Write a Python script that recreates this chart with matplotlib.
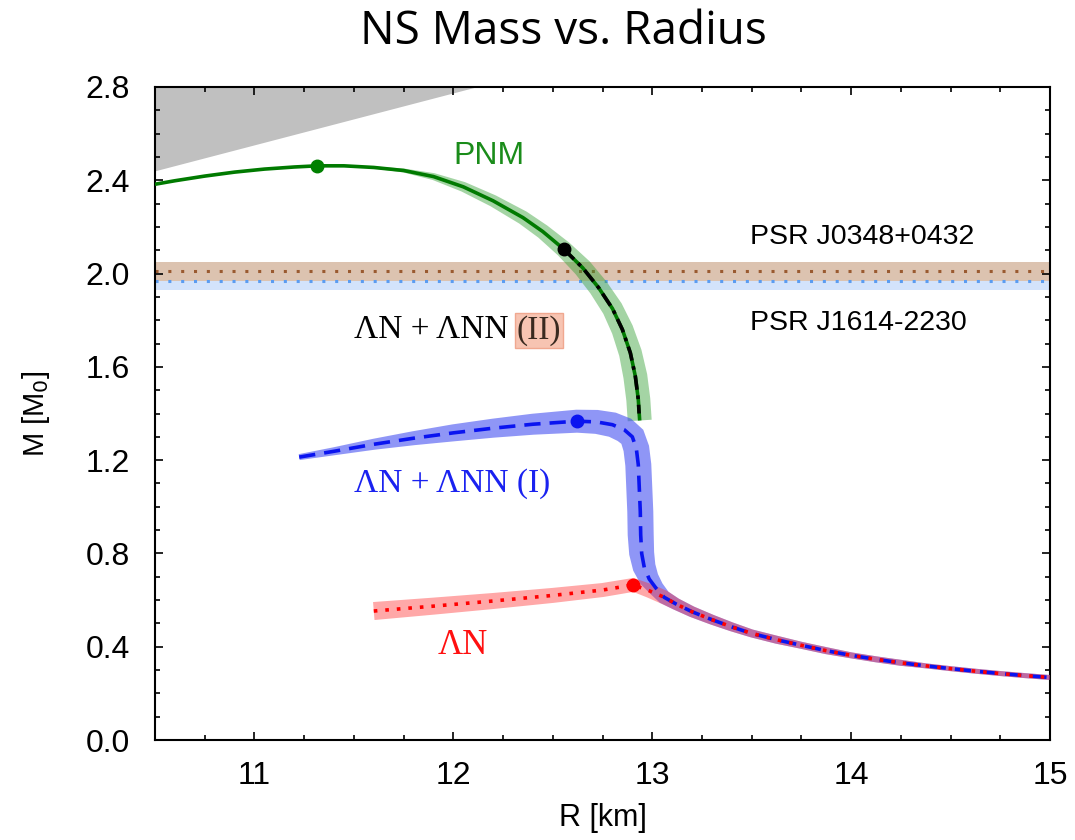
import numpy as np
import matplotlib
matplotlib.use("Agg")
import matplotlib.pyplot as plt
from matplotlib.ticker import MultipleLocator, FormatStrFormatter

# ---------------- data ----------------
# causality-excluded region boundary (R, M)
caus_R = [10.5, 12.125]
caus_M = [2.438, 2.8]

# pulsar masses (M_sun) with 1-sigma
psr_j0348_M, psr_j0348_err = 2.01, 0.04
psr_j1614_M, psr_j1614_err = 1.97, 0.04

# PNM branch
pnm_R = [10.5, 10.6, 10.75, 10.9, 11.05, 11.2, 11.315, 11.45, 11.6, 11.75,
         11.9, 12.05, 12.2, 12.35, 12.45, 12.555, 12.65, 12.73, 12.8, 12.85,
         12.89, 12.915, 12.93, 12.937]
pnm_M = [2.383, 2.398, 2.418, 2.435, 2.448, 2.457, 2.462, 2.462, 2.455, 2.442,
         2.416, 2.372, 2.312, 2.240, 2.180, 2.105, 2.025, 1.940, 1.850, 1.760,
         1.660, 1.560, 1.460, 1.370]
pnm_max = (11.315, 2.462)

# Lambda N + Lambda NN (II): follows PNM from its onset
ln2_R = [12.555, 12.65, 12.73, 12.8, 12.85, 12.89, 12.915, 12.93, 12.934]
ln2_M = [2.105, 2.025, 1.940, 1.850, 1.760, 1.660, 1.560, 1.460, 1.400]
ln2_max = (12.555, 2.105)

# common low-mass tail
tail_R = [13.06, 13.12, 13.2, 13.3, 13.4, 13.5, 13.625, 13.75, 13.875, 14.0,
          14.125, 14.25, 14.375, 14.5, 14.625, 14.75, 14.875, 15.0]
tail_M = [0.612, 0.583, 0.550, 0.516, 0.485, 0.457, 0.430, 0.406, 0.383, 0.363,
          0.346, 0.331, 0.318, 0.306, 0.295, 0.285, 0.276, 0.268]

# Lambda N + Lambda NN (I)
ln1_R = [11.225, 11.4, 11.6, 11.8, 12.0, 12.2, 12.4, 12.62, 12.72, 12.8,
         12.86, 12.9, 12.92, 12.93, 12.935, 12.94, 12.942, 12.947, 12.96,
         12.985, 13.02]
ln1_M = [1.213, 1.238, 1.268, 1.294, 1.317, 1.337, 1.354, 1.367, 1.364, 1.352,
         1.330, 1.300, 1.250, 1.180, 1.080, 0.980, 0.880, 0.800, 0.740,
         0.690, 0.650]
ln1_max = (12.62, 1.367)

# Lambda N
ln_R = [11.6, 11.9, 12.2, 12.5, 12.75, 12.905, 12.985]
ln_M = [0.553, 0.574, 0.596, 0.620, 0.643, 0.665, 0.640]
ln_max = (12.905, 0.665)

# ---------------- style (band full widths in pixels) ----------------
pnm_band_px = [0, 0, 0, 0, 0, 0, 0, 1, 2, 4, 7, 10, 12, 14, 15, 17, 19, 20,
               21, 22, 23, 24, 24, 24]
tail_band_px = [14, 12, 11, 10, 9, 8, 8, 7, 7, 6, 6, 6, 5, 5, 5, 5, 5, 5]
ln1_band_px = [6, 8, 11, 14, 17, 19, 21, 23, 24, 25, 26, 26, 26, 26, 26, 26,
               26, 25, 23, 20, 16]
ln_band_px = [18, 17, 16, 15, 14, 14, 14]

DPI = 100
fig = plt.figure(figsize=(10.75, 8.4), dpi=DPI)
ax = fig.add_axes([155/1075, 1-740/840, (1050-155)/1075, (740-87)/840])
ax.set_xlim(10.5, 15)
ax.set_ylim(0.0, 2.8)


def band(R, M, wpx, color, alpha, z):
    pts = ax.transData.transform(np.column_stack([R, M]))
    d = np.gradient(pts, axis=0)
    n = np.column_stack([-d[:, 1], d[:, 0]])
    n /= np.linalg.norm(n, axis=1)[:, None]
    hw = np.asarray(wpx, float)[:, None] / 2.0
    up = pts + n * hw
    lo = pts - n * hw
    poly = np.vstack([up, lo[::-1]])
    data = ax.transData.inverted().transform(poly)
    ax.fill(data[:, 0], data[:, 1], color=color, alpha=alpha, lw=0, zorder=z)


# causality region
ax.fill([caus_R[0], caus_R[1], caus_R[0]], [caus_M[0], caus_M[1], caus_M[1]],
        color="#c0c0c0", lw=0, zorder=1)

# pulsar bands
ax.axhspan(psr_j1614_M - psr_j1614_err, psr_j1614_M + psr_j1614_err,
           color="#d3e3fb", lw=0, zorder=1)
ax.axhspan(psr_j0348_M - psr_j0348_err, psr_j0348_M + psr_j0348_err,
           color="#dcc3b0", lw=0, zorder=1.1)
ax.axhline(psr_j0348_M, color="#9a5a30", lw=2.2, ls=(0, (1, 3.2)), zorder=1.2)
ax.axhline(psr_j1614_M, color="#5b9cf0", lw=2.2, ls=(0, (1, 3.2)), zorder=1.2)

# bands
band(pnm_R, pnm_M, pnm_band_px, "#35a035", 0.45, 2)
band(ln1_R + tail_R, ln1_M + tail_M, ln1_band_px + tail_band_px, "#3440f0", 0.55, 3)
band(ln_R + tail_R, ln_M + tail_M, ln_band_px + tail_band_px, "#ff3030", 0.42, 4)

# curves
ax.plot(pnm_R, pnm_M, color="#007a00", lw=2.6, solid_capstyle="butt", zorder=5)
ax.plot(ln2_R, ln2_M, color="black", lw=2.6, ls=(0, (4, 1.6, 1, 1.6)), zorder=6)
ax.plot(ln1_R + tail_R, ln1_M + tail_M, color="#0a14f0", lw=2.6,
        ls=(0, (4.5, 2.5)), zorder=7)
ax.plot(ln_R + tail_R, ln_M + tail_M, color="#ff0000", lw=2.6,
        ls=(0, (1, 2.2)), zorder=8)

# maxima markers
ax.plot(*pnm_max, "o", color="#008000", ms=9, zorder=9)
ax.plot(*ln2_max, "o", color="black", ms=9, zorder=9)
ax.plot(*ln1_max, "o", color="#0a14f0", ms=9, zorder=9)
ax.plot(*ln_max, "o", color="#ff0000", ms=9, zorder=9)

# labels
sans = "Liberation Sans"
serif = "Liberation Serif"
ax.text(12.18, 2.505, "PNM", color="#1a8c1a", fontsize=23, family=sans,
        ha="center", va="center")
ax.text(13.49, 2.156, "PSR J0348+0432", color="black", fontsize=20.5,
        family=sans, ha="left", va="center")
ax.text(13.49, 1.79, "PSR J1614-2230", color="black", fontsize=20.5,
        family=sans, ha="left", va="center")
t = ax.text(11.5, 1.757, "ΛN + ΛNN ", color="black", fontsize=24,
            family=serif, ha="left", va="center")
ax.annotate("(II)", xycoords=t, xy=(1, 0.5), va="center", ha="left",
            fontsize=24, family=serif, color="#3a2a20",
            bbox=dict(boxstyle="square,pad=0.06", fc="#f7c4b2", ec="#f0a890", lw=1))
ax.text(11.5, 1.10, "ΛN + ΛNN (I)", color="#1a22f0", fontsize=24,
        family=serif, ha="left", va="center")
ax.text(12.045, 0.407, "ΛN", color="#ff1010", fontsize=25, family=serif,
        ha="center", va="center")

# axes styling
ax.xaxis.set_major_locator(MultipleLocator(1))
ax.xaxis.set_minor_locator(MultipleLocator(0.25))
ax.yaxis.set_major_locator(MultipleLocator(0.4))
ax.yaxis.set_minor_locator(MultipleLocator(0.1))
ax.yaxis.set_major_formatter(FormatStrFormatter("%.1f"))
ax.tick_params(which="both", direction="in", top=True, right=True, width=1.2)
ax.tick_params(which="major", length=6, labelsize=23)
ax.tick_params(axis="y", which="major", pad=18)
ax.tick_params(axis="x", which="major", pad=15)
ax.tick_params(which="minor", length=3.5)
for lab in ax.get_xticklabels() + ax.get_yticklabels():
    lab.set_family(sans)
for s in ax.spines.values():
    s.set_linewidth(1.5)

ax.set_xlabel("R [km]", fontsize=22, family=sans, labelpad=9)
ax.set_ylabel("M [M$_0$]", fontsize=21, family=sans, labelpad=24)

fig.text(563/1075, 1-32/840, "NS Mass vs. Radius", fontsize=33,
         family="Open Sans", ha="center", va="center")

fig.savefig("out.png", dpi=DPI)
